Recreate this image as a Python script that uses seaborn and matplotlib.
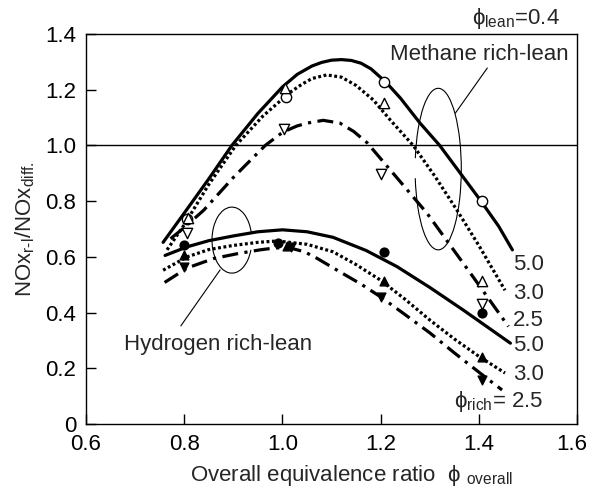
import numpy as np
import pandas as pd
import matplotlib
matplotlib.use("Agg")
import matplotlib.pyplot as plt
import matplotlib.transforms as mtransforms
from matplotlib.patches import Arc
import seaborn as sns

# curves (phi_overall, NOx ratio)
ch4_50_x = [0.757, 0.80, 0.85, 0.897, 0.95, 1.00, 1.03, 1.06, 1.08, 1.10, 1.12, 1.14, 1.16, 1.18,
            1.21, 1.24, 1.28, 1.32, 1.36, 1.40, 1.44, 1.468]
ch4_50_y = [0.652, 0.757, 0.88, 1.00, 1.115, 1.21, 1.255, 1.285, 1.298, 1.306, 1.308, 1.305, 1.295,
            1.275, 1.228, 1.17, 1.08, 1.00, 0.905, 0.81, 0.71, 0.625]
ch4_30_x = [0.765, 0.80, 0.85, 0.905, 0.96, 1.015, 1.04, 1.06, 1.09, 1.12, 1.15, 1.185, 1.22,
            1.266, 1.31, 1.355, 1.40, 1.453]
ch4_30_y = [0.625, 0.715, 0.86, 1.00, 1.105, 1.19, 1.22, 1.24, 1.253, 1.245, 1.215, 1.163, 1.09,
            1.00, 0.89, 0.768, 0.64, 0.48]
ch4_25_x = [0.772, 0.80, 0.84, 0.90, 0.965, 1.001, 1.03, 1.05, 1.083, 1.117, 1.145, 1.172, 1.23,
            1.294, 1.34, 1.388, 1.46]
ch4_25_y = [0.665, 0.705, 0.768, 0.885, 1.00, 1.048, 1.07, 1.08, 1.09, 1.08, 1.05, 1.01, 0.89,
            0.757, 0.645, 0.528, 0.35]

h2_50_x = [0.761, 0.806, 0.85, 0.90, 0.95, 1.00, 1.05, 1.103, 1.17, 1.233, 1.30, 1.368, 1.464]
h2_50_y = [0.605, 0.636, 0.658, 0.675, 0.690, 0.697, 0.690, 0.670, 0.623, 0.565, 0.490, 0.409, 0.290]
h2_30_x = [0.757, 0.806, 0.85, 0.90, 0.95, 0.989, 1.05, 1.103, 1.15, 1.199, 1.25, 1.30, 1.35,
           1.402, 1.453]
h2_30_y = [0.552, 0.600, 0.626, 0.641, 0.652, 0.657, 0.645, 0.618, 0.572, 0.517, 0.447, 0.373,
           0.305, 0.240, 0.183]
h2_25_x = [0.76, 0.806, 0.86, 0.91, 0.954, 0.985, 1.015, 1.045, 1.07, 1.117, 1.16, 1.20, 1.25,
           1.30, 1.35, 1.402, 1.447]
h2_25_y = [0.508, 0.560, 0.594, 0.612, 0.625, 0.632, 0.632, 0.618, 0.595, 0.546, 0.502, 0.456,
           0.392, 0.327, 0.255, 0.183, 0.122]

# measured points
ch4_50_px = [0.805, 1.007, 1.207, 1.406]
ch4_50_py = [0.735, 1.174, 1.228, 0.80]
ch4_30_px = [0.808, 1.005, 1.207, 1.406]
ch4_30_py = [0.739, 1.206, 1.152, 0.513]
ch4_25_px = [0.806, 1.003, 1.20, 1.406]
ch4_25_py = [0.686, 1.059, 0.897, 0.43]

h2_50_px = [0.80, 0.991, 1.207, 1.406]
h2_50_py = [0.643, 0.650, 0.617, 0.40]
h2_30_px = [0.80, 1.009, 1.207, 1.406]
h2_30_py = [0.607, 0.640, 0.513, 0.24]
h2_25_px = [0.80, 1.017, 1.20, 1.406]
h2_25_py = [0.564, 0.634, 0.456, 0.158]

end_labels = ["5.0", "3.0", "2.5", "5.0", "3.0", r"$\phi_{\rm rich}$= 2.5"]
end_label_y = [0.571, 0.470, 0.373, 0.280, 0.176, 0.079]

x_ticks = [0.6, 0.8, 1.0, 1.2, 1.4, 1.6]
x_tick_labels = ["0.6", "0.8", "1.0", "1.2", "1.4", "1.6"]
y_ticks = [0, 0.2, 0.4, 0.6, 0.8, 1.0, 1.2, 1.4]
y_tick_labels = ["0", "0.2", "0.4", "0.6", "0.8", "1.0", "1.2", "1.4"]

FS = 16


def main():
    sns.set_style("ticks")
    plt.rcParams["font.family"] = ["Liberation Sans", "DejaVu Sans"]
    plt.rcParams["mathtext.fontset"] = "custom"
    plt.rcParams["mathtext.rm"] = "Liberation Sans"
    plt.rcParams["mathtext.it"] = "Liberation Sans"
    plt.rcParams["font.size"] = FS

    fig = plt.figure(figsize=(5.89, 4.91), dpi=100)
    ax = fig.add_axes([0.146, 0.1365, 0.834, 0.7943])

    solid = "-"
    dotted = (0, (0.9, 0.8))
    dashdot = (0, (5, 2, 1, 2))
    lw = 2.3

    curves = [
        (ch4_50_x, ch4_50_y, solid),
        (ch4_30_x, ch4_30_y, dotted),
        (ch4_25_x, ch4_25_y, dashdot),
        (h2_50_x, h2_50_y, solid),
        (h2_30_x, h2_30_y, dotted),
        (h2_25_x, h2_25_y, dashdot),
    ]
    for cx, cy, ls in curves:
        df = pd.DataFrame({"x": cx, "y": cy})
        sns.lineplot(data=df, x="x", y="y", ax=ax, color="black", linewidth=lw,
                     linestyle=ls, sort=False, estimator=None,
                     dash_capstyle="butt", solid_joinstyle="round", zorder=2)

    points = [
        (ch4_50_px, ch4_50_py, "o", "white", 55),
        (ch4_30_px, ch4_30_py, "^", "white", 55),
        (ch4_25_px, ch4_25_py, "v", "white", 55),
        (h2_50_px, h2_50_py, "o", "black", 40),
        (h2_30_px, h2_30_py, "^", "black", 40),
        (h2_25_px, h2_25_py, "v", "black", 40),
    ]
    for px, py, mk, fc, s in points:
        sns.scatterplot(x=px, y=py, ax=ax, marker=mk, s=s, facecolor=fc,
                        edgecolor="black", linewidth=1.0, zorder=3)

    ax.axhline(1.0, color="black", linewidth=1.0, zorder=1)

    # grouping ellipses and leaders
    ax.add_patch(Arc((1.317, 0.915), 0.094, 0.58, theta1=-145, theta2=140,
                     color="black", linewidth=0.8))
    ax.plot([1.352, 1.417], [1.116, 1.278], color="black", linewidth=0.8)
    ax.add_patch(Arc((0.897, 0.660), 0.081, 0.237, theta1=29, theta2=318,
                     color="black", linewidth=0.8))
    ax.plot([0.873, 0.793], [0.553, 0.352], color="black", linewidth=0.8)

    ax.text(1.401, 1.325, "Methane rich-lean", ha="center", va="center", fontsize=FS)
    ax.text(0.868, 0.284, "Hydrogen rich-lean", ha="center", va="center", fontsize=FS)
    for lab, ly in zip(end_labels, end_label_y):
        ax.text(1.532, ly, lab, ha="right", va="center", fontsize=FS)
    ax.text(1.565, 1.457, r"$\phi_{\rm lean}$=0.4", ha="right", va="center",
            fontsize=FS, clip_on=False)

    ax.set_xlim(0.6, 1.6)
    ax.set_ylim(0, 1.4)
    ax.set_xticks(x_ticks)
    ax.set_xticklabels(x_tick_labels)
    ax.set_yticks(y_ticks)
    ax.set_yticklabels(y_tick_labels)
    ax.tick_params(direction="in", length=7, width=1.0, labelsize=FS, pad=7,
                   colors="black")
    for sp in ax.spines.values():
        sp.set_visible(True)
        sp.set_linewidth(1.0)
        sp.set_color("black")

    # last x tick label sits a little left so it stays inside the figure
    last = ax.get_xticklabels()[-1]
    last.set_transform(last.get_transform() +
                       mtransforms.ScaledTranslation(-0.05, 0, fig.dpi_scale_trans))

    ax.set_xlabel(r"Overall equivalence ratio  $\phi$ $_{\rm overall}$", fontsize=FS, labelpad=6)
    ax.xaxis.label.set_x(0.54)
    ax.set_ylabel(r"NOx$_{\rm r\text{-}l}$/NOx$_{\rm diff.}$", fontsize=FS, labelpad=6)

    fig.savefig("out.png", dpi=100)
    plt.close(fig)


if __name__ == "__main__":
    main()
